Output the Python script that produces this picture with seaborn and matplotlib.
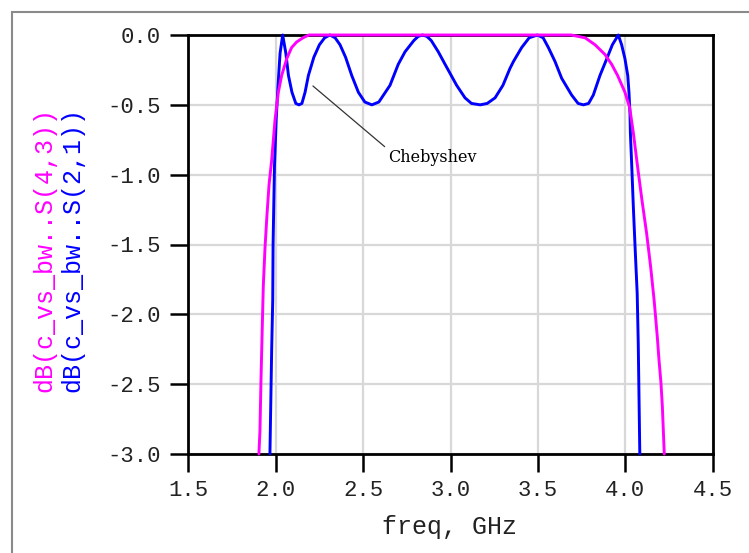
import numpy as np
import pandas as pd
import matplotlib
matplotlib.use("Agg")
import matplotlib.pyplot as plt
from matplotlib.patches import Rectangle
import seaborn as sns

# Chebyshev response dB(S(2,1)) : frequency (GHz) and magnitude (dB)
freq_s21 = [1.967, 1.977, 1.983, 1.985, 1.993, 2.003, 2.013, 2.025, 2.040,
            2.058, 2.073, 2.093, 2.115, 2.133, 2.150, 2.168, 2.187, 2.218,
            2.250, 2.280, 2.310, 2.340, 2.368, 2.400, 2.435, 2.473, 2.510,
            2.550, 2.590, 2.654, 2.701, 2.740, 2.790, 2.815, 2.840, 2.865,
            2.890, 2.930, 2.969, 3.035, 3.083, 3.120, 3.170, 3.210, 3.255,
            3.300, 3.340, 3.360, 3.407, 3.450, 3.497, 3.530, 3.560, 3.598,
            3.636, 3.693, 3.730, 3.760, 3.790, 3.817, 3.855, 3.894, 3.926,
            3.960, 3.979, 3.998, 4.014, 4.021, 4.027, 4.029, 4.037, 4.046,
            4.056, 4.068, 4.074, 4.083]
db_s21 = [-3.00, -2.25, -1.90, -1.50, -0.94, -0.60, -0.37, -0.13, 0.00,
          -0.13, -0.29, -0.41, -0.49, -0.50, -0.49, -0.41, -0.29, -0.16,
          -0.07, -0.02, 0.00, -0.02, -0.07, -0.16, -0.29, -0.41, -0.48,
          -0.50, -0.48, -0.36, -0.21, -0.12, -0.04, -0.01, 0.00, -0.01,
          -0.04, -0.12, -0.21, -0.36, -0.45, -0.49, -0.50, -0.49, -0.45,
          -0.36, -0.24, -0.19, -0.09, -0.02, 0.00, -0.02, -0.09, -0.19,
          -0.31, -0.43, -0.49, -0.50, -0.49, -0.43, -0.29, -0.17, -0.07,
          0.00, -0.07, -0.17, -0.29, -0.41, -0.57, -0.70, -0.94, -1.23,
          -1.52, -1.85, -2.20, -3.00]

# Butterworth response dB(S(4,3))
freq_s43 = [1.904, 1.910, 1.916, 1.923, 1.929, 1.939, 1.950, 1.962, 1.977,
            1.996, 2.015, 2.034, 2.063, 2.091, 2.120, 2.156, 2.190, 3.690,
            3.770, 3.827, 3.884, 3.922, 3.956, 3.998, 4.025, 4.046, 4.070,
            4.095, 4.122, 4.145, 4.165, 4.183, 4.193, 4.204, 4.212, 4.223]
db_s43 = [-3.00, -2.83, -2.46, -2.10, -1.80, -1.52, -1.29, -1.07, -0.895,
          -0.61, -0.41, -0.29, -0.17, -0.09, -0.05, -0.02, 0.00, 0.00,
          -0.02, -0.07, -0.14, -0.21, -0.29, -0.41, -0.52, -0.70, -0.94,
          -1.18, -1.42, -1.66, -1.90, -2.16, -2.33, -2.49, -2.66, -3.00]

x_ticks = [1.5, 2.0, 2.5, 3.0, 3.5, 4.0, 4.5]
x_tick_labels = ["1.5", "2.0", "2.5", "3.0", "3.5", "4.0", "4.5"]
y_ticks = [0.0, -0.5, -1.0, -1.5, -2.0, -2.5, -3.0]
y_tick_labels = ["0.0", "-0.5", "-1.0", "-1.5", "-2.0", "-2.5", "-3.0"]

MAGENTA = "#ff00ff"
BLUE = "#0000ff"
MONO = "Liberation Mono"

sns.set_theme(style="white")
plt.rcParams["font.family"] = [MONO, "DejaVu Sans Mono"]

W, H = 749, 553
fig = plt.figure(figsize=(W / 100, H / 100), dpi=100)
fig.patch.set_facecolor("white")

left, right, top, bottom = 188.3, 712.7, 35.0, 454.0
ax = fig.add_axes([left / W, 1 - bottom / H, (right - left) / W, (bottom - top) / H])

s21 = pd.DataFrame({"freq": freq_s21, "db": db_s21})
s43 = pd.DataFrame({"freq": freq_s43, "db": db_s43})

sns.lineplot(data=s21, x="freq", y="db", color=BLUE, lw=2.1, sort=False,
             estimator=None, ax=ax, clip_on=False, zorder=4)
sns.lineplot(data=s43, x="freq", y="db", color=MAGENTA, lw=2.1, sort=False,
             estimator=None, ax=ax, clip_on=False, zorder=5)

ax.set_xlim(1.5, 4.5)
ax.set_ylim(-3.0, 0.0)
ax.set_xticks(x_ticks)
ax.set_xticklabels(x_tick_labels)
ax.set_yticks(y_ticks)
ax.set_yticklabels(y_tick_labels)
ax.set_xlabel("")
ax.set_ylabel("")

ax.grid(True, color="#d8d8d8", lw=1.6, zorder=0)
ax.set_axisbelow(True)
for sp in ax.spines.values():
    sp.set_color("black")
    sp.set_linewidth(2.0)
    sp.set_visible(True)

ax.tick_params(axis="both", which="major", direction="out", length=13,
               width=1.8, color="black", labelsize=16, labelcolor="#222222",
               bottom=True, left=True, top=False, right=False)
ax.tick_params(axis="y", pad=7)
ax.tick_params(axis="x", pad=6)

# callout for the equal-ripple trace
ax.annotate("Chebyshev", xy=(2.213, -0.365), xytext=(2.642, -0.88),
            fontfamily="DejaVu Serif", fontsize=11.5, color="black",
            ha="left", va="center",
            arrowprops=dict(arrowstyle="-", color="#333333", lw=0.9,
                            shrinkA=0, shrinkB=0, relpos=(0.0, 1.0)))

# stacked trace names on the left
fig.text(44 / W, 1 - 250 / H, "dB(c_vs_bw..S(4,3))", rotation=90,
         color=MAGENTA, fontsize=18, ha="center", va="center")
fig.text(72 / W, 1 - 250 / H, "dB(c_vs_bw..S(2,1))", rotation=90,
         color=BLUE, fontsize=18, ha="center", va="center")

fig.text(450 / W, 1 - 527 / H, "freq, GHz", color="#222222", fontsize=18,
         ha="center", va="center")

# outer panel border
fig.patches.append(Rectangle((12 / W, -0.05), 1.0, 1 - 12 / H + 0.05,
                             transform=fig.transFigure, fill=False,
                             ec="#8a8a8a", lw=1.5))

fig.savefig("out.png", dpi=100, facecolor="white")
